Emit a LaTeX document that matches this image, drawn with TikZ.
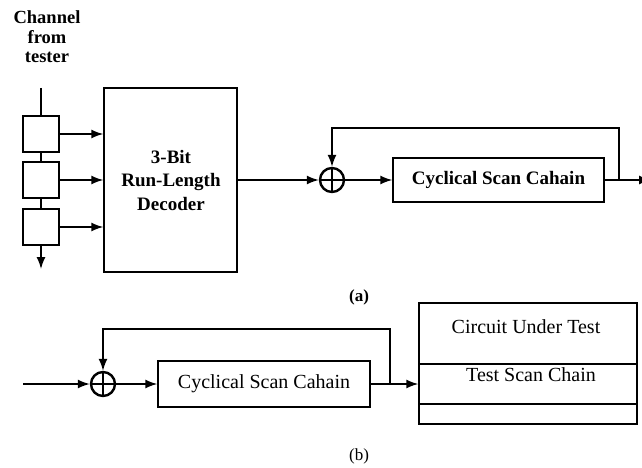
\documentclass[tikz,border=0pt]{standalone}
\usepackage{fontspec}
\setmainfont{Liberation Serif}
\usetikzlibrary{arrows.meta,calc}
\begin{document}
\begin{tikzpicture}[x=1pt,y=-1pt,
  wire/.style={line width=1.5pt},
  arr/.style={wire,-{Latex[length=12pt,width=9pt]}},
  blk/.style={draw,line width=1.4pt,inner sep=0pt},
  cell/.style={blk,minimum width=36pt,minimum height=36pt},
  xorop/.style={draw,circle,line width=2.4pt,minimum size=24pt,inner sep=0pt},
  boldtxt/.style={font=\fontsize{19}{23.5}\selectfont\bfseries,align=center},
  plaintxt/.style={font=\fontsize{20}{23}\selectfont,align=center}]
\clip (0,0) rectangle (642,468);
\fill[white] (0,0) rectangle (642,468);

% ---- (a) run-length decoder feeding the cyclical scan chain ----
\node[align=center,font=\fontsize{18.5}{19.5}\selectfont\bfseries] (chan) at (47,37) {Channel\\from\\tester};
\coordinate (chin) at (41,88);
\node[cell] (r1) at (41,134) {};
\node[cell] (r2) at (41,180) {};
\node[cell] (r3) at (41,227) {};
\coordinate (chout) at (41,269);
\draw[wire] (chin) -- (r1.north);
\draw[wire] (r1.south) -- (r2.north);
\draw[wire] (r2.south) -- (r3.north);
\draw[arr] (r3.south) -- (chout);

\node[blk,minimum width=133pt,minimum height=184pt] (dec) at (170.5,180) {};
\node[boldtxt] (dectxt) at (171,180) {3-Bit\\Run-Length\\Decoder};
\foreach \r in {r1,r2,r3}
  \draw[arr] (\r.east) -- (\r.east -| dec.west);

\node[xorop] (x1) at (332,180) {};
\draw[line width=1.6pt] (x1.north) -- (x1.south) (x1.west) -- (x1.east);
\node[blk,minimum width=211pt,minimum height=44pt,boldtxt] (csc1) at (498.5,180) {Cyclical Scan Cahain};
\draw[arr] (dec.east) -- (x1.west);
\draw[arr] (x1.east) -- (csc1.west);
\coordinate (f1) at (619,180);
\coordinate (f1top) at (619,128);
\coordinate (x1top) at (332,128);
\draw[arr] (f1) -- (f1top) -- (x1top) -- (x1.north);
\coordinate (out1) at (651,180);
\draw[arr] (csc1.east) -- (out1);

\node[font=\fontsize{17}{20}\selectfont\bfseries] (capa) at (359,297) {(a)};

% ---- (b) cyclical scan chain driving the circuit under test ----
\coordinate (in2) at (23,384);
\node[xorop] (x2) at (103,384) {};
\draw[line width=1.6pt] (x2.north) -- (x2.south) (x2.west) -- (x2.east);
\node[blk,minimum width=212pt,minimum height=46pt,plaintxt] (csc2) at (264,384) {Cyclical Scan Cahain};
\draw[arr] (in2) -- (x2.west);
\draw[arr] (x2.east) -- (csc2.west);

\node[blk,minimum width=218pt,minimum height=121pt] (cut) at (528,363.5) {};
\draw[line width=1.4pt] (cut.west |- 0,364) -- (cut.east |- 0,364);
\draw[line width=1.4pt] (cut.west |- 0,404) -- (cut.east |- 0,404);
\node[plaintxt] (cuttxt) at (526,327) {Circuit Under Test};
\node[plaintxt] (tsctxt) at (531,375) {Test Scan Chain};

\coordinate (f2) at (390,384);
\coordinate (f2top) at (390,329);
\coordinate (x2top) at (103,329);
\draw[arr] (f2) -- (f2top) -- (x2top) -- (x2.north);
\draw[arr] (csc2.east) -- (csc2.east -| cut.west);

\node[font=\fontsize{17}{20}\selectfont] (capb) at (359,456) {(b)};
\end{tikzpicture}
\end{document}
